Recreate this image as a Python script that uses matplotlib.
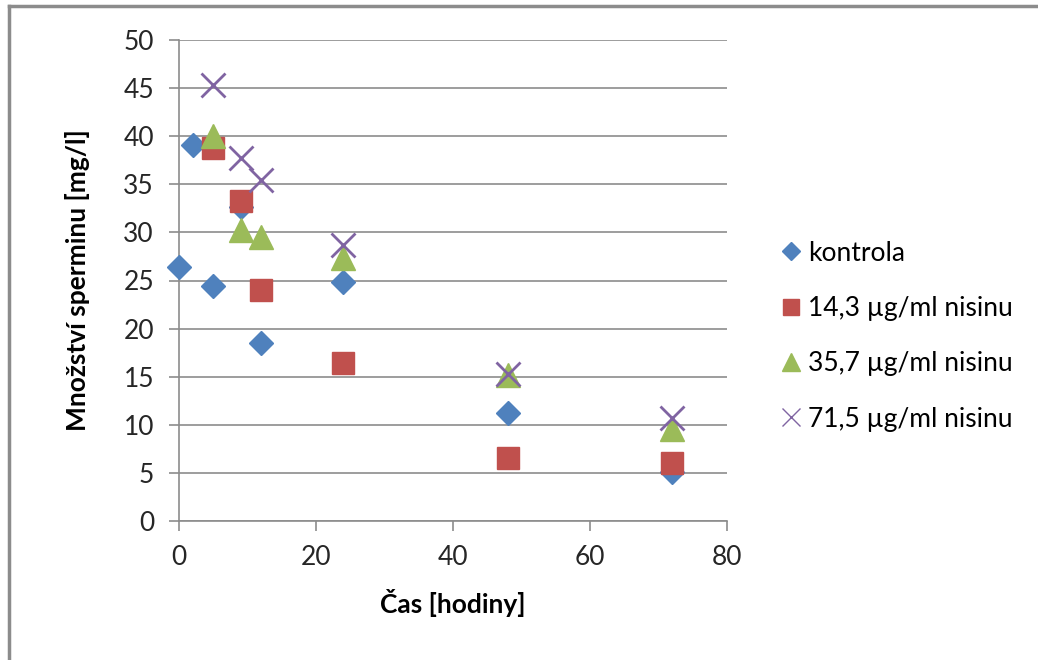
import matplotlib
matplotlib.use("Agg")
import matplotlib.pyplot as plt
from matplotlib.lines import Line2D

plt.rcParams['font.family'] = ['Lato', 'DejaVu Sans']

# data
cas_kontrola = [0, 2, 5, 9, 12, 24, 48, 72]
kontrola = [26.4, 39.1, 24.4, 32.6, 18.5, 24.8, 11.2, 5.1]

cas_nisin = [5, 9, 12, 24, 48, 72]
nisin_14 = [38.8, 33.3, 24.0, 16.4, 6.5, 6.0]
nisin_35 = [40.0, 30.2, 29.5, 27.3, 15.2, 9.6]
nisin_71 = [45.3, 37.7, 35.4, 28.7, 15.3, 10.7]

labels = ['kontrola', '14,3 µg/ml nisinu', '35,7 µg/ml nisinu', '71,5 µg/ml nisinu']
yticks = list(range(0, 51, 5))
xticks = [0, 20, 40, 60, 80]

blue = '#4F81BD'
red = '#C0504D'
green = '#9BBB59'
purple = '#8064A2'
grid_c = '#8C8C8C'

fig = plt.figure(figsize=(10.38, 6.6), dpi=100)
ax = fig.add_axes([179/1038, 1 - 521/660, (727-179)/1038, (521-40)/660])

ax.plot(cas_kontrola, kontrola, 'D', color=blue, ms=12, mec=blue, zorder=3, clip_on=False)
ax.plot(cas_nisin, nisin_14, 's', color=red, ms=16, mec=red, zorder=4, clip_on=False)
ax.plot(cas_nisin, nisin_35, '^', color=green, ms=17, mec=green, zorder=5, clip_on=False)
ax.plot(cas_nisin, nisin_71, 'x', color=purple, ms=17, mew=2, zorder=6, clip_on=False)

ax.set_xlim(0, 80)
ax.set_ylim(0, 50)
ax.set_xticks(xticks)
ax.set_yticks(yticks)
ax.grid(axis='y', color=grid_c, lw=1.2)
ax.set_axisbelow(True)
for s in ['top', 'right']:
    ax.spines[s].set_visible(False)
for s in ['left', 'bottom']:
    ax.spines[s].set_color(grid_c)
    ax.spines[s].set_linewidth(1.2)
ax.tick_params(axis='both', colors=grid_c, labelcolor='#262626', labelsize=19,
               length=7, width=1.2, direction='out')
ax.tick_params(axis='y', pad=11)
ax.tick_params(axis='x', pad=10)

ax.set_xlabel('Čas [hodiny]', fontsize=19, fontweight='bold', labelpad=14)
ax.set_ylabel('Množství sperminu [mg/l]', fontsize=19, fontweight='bold', labelpad=24)

handles = [
    Line2D([], [], ls='none', marker='D', color=blue, ms=9),
    Line2D([], [], ls='none', marker='s', color=red, ms=12),
    Line2D([], [], ls='none', marker='^', color=green, ms=13),
    Line2D([], [], ls='none', marker='x', color=purple, ms=13, mew=1),
]
fig.legend(handles, labels, loc='upper left', bbox_to_anchor=(771/1038, 1 - 230/660),
           frameon=False, fontsize=19, handlelength=0.7, handletextpad=0.3,
           labelspacing=1.15, borderaxespad=0)

# outer frame (only left/top visible in the reference)
fig.add_artist(Line2D([9/1038, 9/1038], [0, 1 - 6/660], color='#8C8C8C', lw=2.5))
fig.add_artist(Line2D([9/1038, 1], [1 - 6/660, 1 - 6/660], color='#8C8C8C', lw=2.5))

fig.savefig('out.png', dpi=100)
